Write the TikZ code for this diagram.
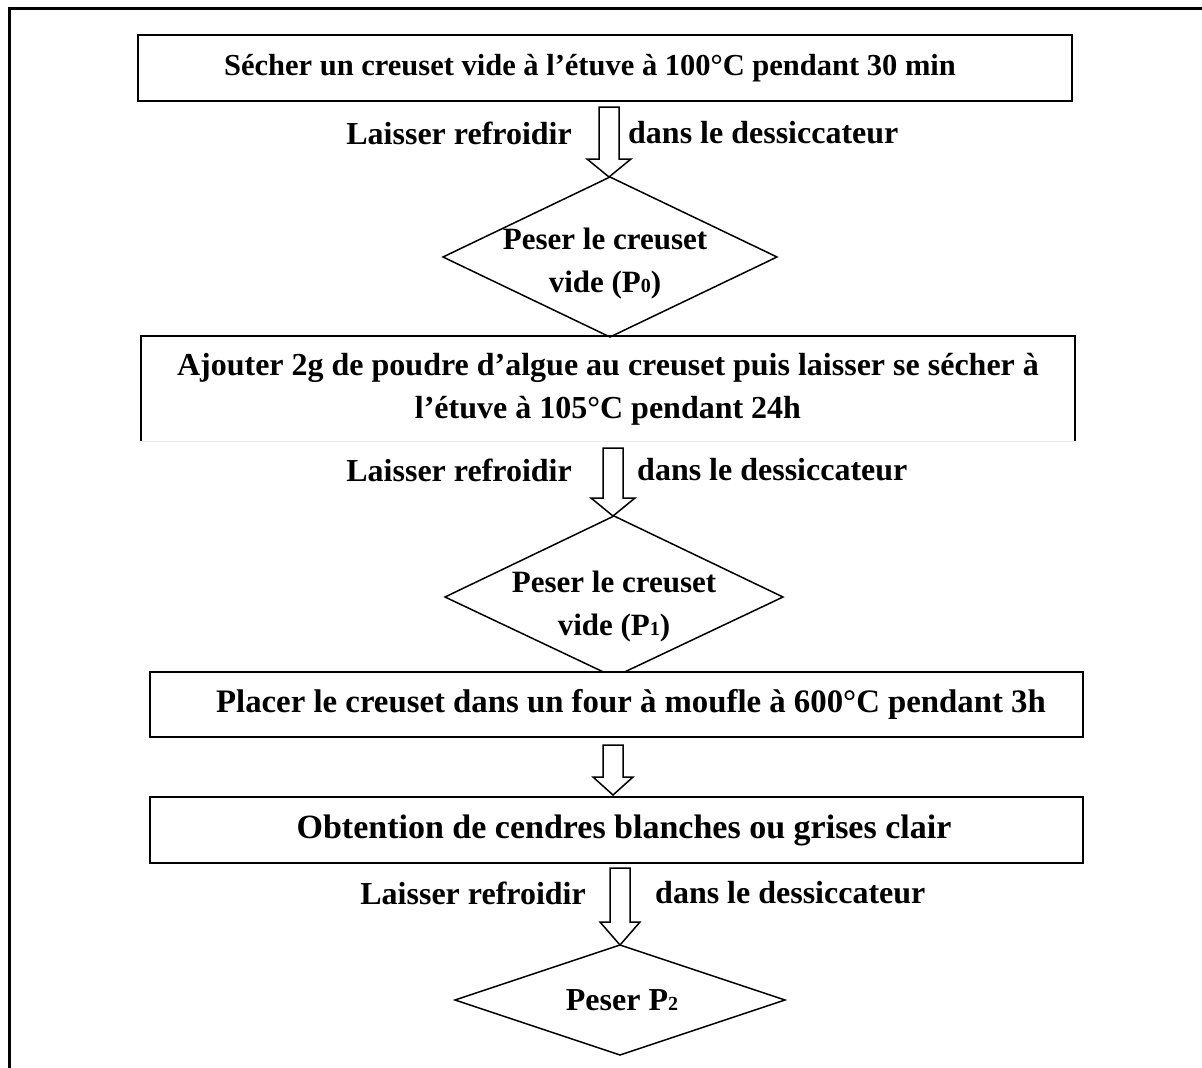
\documentclass[tikz,border=0pt]{standalone}
\usepackage{fontspec}
\setmainfont{Liberation Serif}
\usetikzlibrary{shapes.geometric,calc}
\tikzset{
  txt/.style={font=\fontsize{32}{43}\selectfont\bfseries, inner sep=0pt, align=center},
  fs/.style={font=\fontsize{#1}{43}\selectfont\bfseries},
  box/.style={draw=black, line width=2pt, fill=white},
  dia/.style={draw=black, line width=1.5pt},
  barrow/.style={draw=black, line width=1.5pt, fill=white, line join=miter},
}
\newcommand{\sm}[1]{{\fontsize{20}{20}\selectfont #1}}
% hollow block arrow: x, top of shaft, base of head, tip, half shaft, half head
\newcommand{\blockarr}[6]{%
  \draw[barrow] (#1-#5,#2) -- (#1+#5,#2) -- (#1+#5,#3) -- (#1+#6,#3) -- (#1,#4)
     -- (#1-#6,#3) -- (#1-#5,#3) -- cycle;}
\begin{document}
\begin{tikzpicture}[x=1pt,y=-1pt]
\useasboundingbox (0,0) rectangle (1202,1068);
\fill[white] (0,0) rectangle (1202,1068);
% outer frame (partly visible)
\draw[line width=3pt] (9,1070) -- (9,8.5) -- (1205,8.5);

% box 1
\draw[box] (138,35) rectangle (1072,101);
\node[txt, fs=30.5] (b1) at (590,68) {Sécher un creuset vide à l’étuve à 100°C pendant 30 min};

% arrow 1 and labels
\blockarr{609}{107}{159}{177}{10}{22}
\node[txt, anchor=east] (l1) at (572,133) {Laisser refroidir};
\node[txt, anchor=west] (r1) at (628,133) {dans le dessiccateur};

% diamond 1
\draw[dia] (610,177) -- (777,257) -- (610,337) -- (443,257) -- cycle;
\coordinate (d1) at (610,257);
\node[txt, fs=31] (d1t) at (605,264) {Peser le creuset\\vide (P\sm{0})};

% box 2 (no bottom line)
\draw[line width=1.5pt] (141,441) -- (141,336) -- (1075,336) -- (1075,441);
\draw[line width=0.6pt, black!8] (141,441) -- (1075,441);
\node[txt] (b2) at (608,389) {Ajouter 2g de poudre d’algue au creuset puis laisser se sécher à\\l’étuve à 105°C pendant 24h};

% arrow 2 and labels
\blockarr{613}{448}{498}{516}{10}{22}
\node[txt, anchor=east] (l2) at (572,470) {Laisser refroidir};
\node[txt, anchor=west] (r2) at (637,470) {dans le dessiccateur};

% diamond 2
\draw[dia] (614,516) -- (783,597) -- (614,677) -- (445,597) -- cycle;
\node[txt, fs=31] (d2t) at (614,607) {Peser le creuset\\vide (P\sm{1})};

% box 3
\draw[box] (150,672) rectangle (1083,737);
\node[txt, fs=32.8] (b3) at (631,704) {Placer le creuset dans un four à moufle à 600°C pendant 3h};

% arrow 3
\blockarr{613}{745}{777}{795}{10}{20}

% box 4
\draw[box] (150,797) rectangle (1083,863);
\node[txt, fs=34] (b4) at (624,830) {Obtention de cendres blanches ou grises clair};

% arrow 4 and labels
\blockarr{620}{868}{922}{945}{10}{20}
\node[txt, anchor=east] (l3) at (586,893) {Laisser refroidir};
\node[txt, anchor=west] (r3) at (655,893) {dans le dessiccateur};

% diamond 3
\draw[dia] (620,945) -- (785,1000) -- (620,1055) -- (455,1000) -- cycle;
\node[txt] (d3t) at (622,1000) {Peser P\sm{2}};
\end{tikzpicture}
\end{document}
